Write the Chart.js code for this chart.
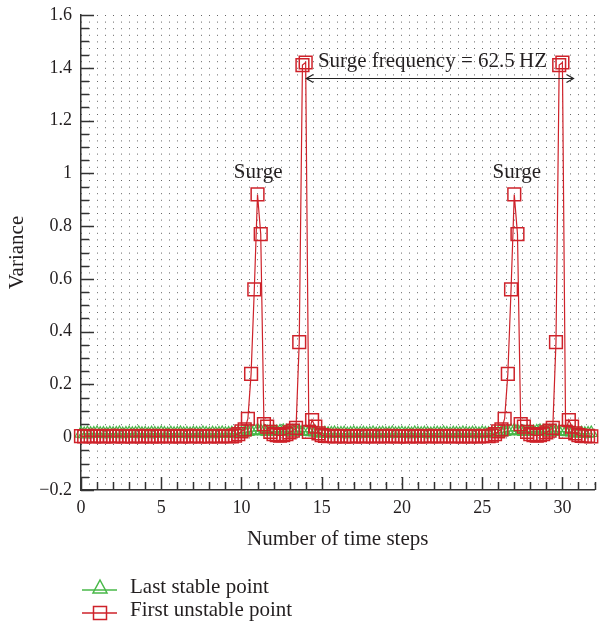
<!DOCTYPE html>
<html>
<head>
<meta charset="utf-8">
<script src="https://cdn.jsdelivr.net/npm/chart.js@4.4.0/dist/chart.umd.min.js"></script>
<style>
  html, body { margin: 0; padding: 0; background: #fff; }
</style>
</head>
<body>
<canvas id="surgeChart" width="605" height="629"></canvas>
<script>
// time axis (one point every 0.2 step)
const timeSteps = [
  0, 0.2, 0.4, 0.6, 0.8, 1, 1.2, 1.4, 1.6, 1.8,
  2, 2.2, 2.4, 2.6, 2.8, 3, 3.2, 3.4, 3.6, 3.8,
  4, 4.2, 4.4, 4.6, 4.8, 5, 5.2, 5.4, 5.6, 5.8,
  6, 6.2, 6.4, 6.6, 6.8, 7, 7.2, 7.4, 7.6, 7.8,
  8, 8.2, 8.4, 8.6, 8.8, 9, 9.2, 9.4, 9.6, 9.8,
  10, 10.2, 10.4, 10.6, 10.8, 11, 11.2, 11.4, 11.6, 11.8,
  12, 12.2, 12.4, 12.6, 12.8, 13, 13.2, 13.4, 13.6, 13.8,
  14, 14.2, 14.4, 14.6, 14.8, 15, 15.2, 15.4, 15.6, 15.8,
  16, 16.2, 16.4, 16.6, 16.8, 17, 17.2, 17.4, 17.6, 17.8,
  18, 18.2, 18.4, 18.6, 18.8, 19, 19.2, 19.4, 19.6, 19.8,
  20, 20.2, 20.4, 20.6, 20.8, 21, 21.2, 21.4, 21.6, 21.8,
  22, 22.2, 22.4, 22.6, 22.8, 23, 23.2, 23.4, 23.6, 23.8,
  24, 24.2, 24.4, 24.6, 24.8, 25, 25.2, 25.4, 25.6, 25.8,
  26, 26.2, 26.4, 26.6, 26.8, 27, 27.2, 27.4, 27.6, 27.8,
  28, 28.2, 28.4, 28.6, 28.8, 29, 29.2, 29.4, 29.6, 29.8,
  30, 30.2, 30.4, 30.6, 30.8, 31, 31.2, 31.4, 31.6, 31.8
];

const firstUnstable = [
  0.004, 0.003, 0.005, 0.004, 0.003, 0.005, 0.004, 0.003, 0.004, 0.005,
  0.003, 0.004, 0.005, 0.003, 0.004, 0.004, 0.003, 0.005, 0.004, 0.003,
  0.004, 0.005, 0.003, 0.004, 0.003, 0.005, 0.004, 0.004, 0.003, 0.005,
  0.004, 0.003, 0.004, 0.005, 0.003, 0.004, 0.005, 0.003, 0.004, 0.004,
  0.003, 0.005, 0.004, 0.003, 0.004, 0.005, 0.004, 0.003, 0.006, 0.012,
  0.022, 0.03, 0.07, 0.24, 0.56, 0.92, 0.77, 0.05, 0.04, 0.02,
  0.012, 0.008, 0.006, 0.008, 0.012, 0.018, 0.025, 0.035, 0.36, 1.41,
  1.42, 0.02, 0.065, 0.04, 0.015, 0.008, 0.005, 0.004, 0.005, 0.003,
  0.004, 0.005, 0.003, 0.004, 0.004, 0.003, 0.005, 0.004, 0.003, 0.004,
  0.005, 0.003, 0.004, 0.004, 0.005, 0.003, 0.004, 0.005, 0.004, 0.003,
  0.004, 0.004, 0.003, 0.005, 0.004, 0.003, 0.004, 0.005, 0.003, 0.004,
  0.005, 0.004, 0.003, 0.004, 0.005, 0.004, 0.003, 0.004, 0.005, 0.003,
  0.004, 0.003, 0.005, 0.004, 0.003, 0.004, 0.005, 0.004, 0.006, 0.012,
  0.022, 0.03, 0.07, 0.24, 0.56, 0.92, 0.77, 0.05, 0.04, 0.02,
  0.012, 0.008, 0.006, 0.008, 0.012, 0.018, 0.025, 0.035, 0.36, 1.41,
  1.42, 0.02, 0.065, 0.04, 0.015, 0.008, 0.005, 0.004, 0.005, 0.003
];

const lastStable = [
  0.014, 0.012, 0.015, 0.013, 0.014, 0.016, 0.013, 0.014, 0.012, 0.015,
  0.013, 0.014, 0.016, 0.012, 0.014, 0.015, 0.013, 0.014, 0.016, 0.013,
  0.014, 0.012, 0.015, 0.014, 0.013, 0.016, 0.014, 0.012, 0.015, 0.013,
  0.014, 0.016, 0.013, 0.014, 0.012, 0.015, 0.014, 0.013, 0.016, 0.014,
  0.012, 0.015, 0.013, 0.014, 0.016, 0.013, 0.014, 0.015, 0.014, 0.016,
  0.016, 0.018, 0.020, 0.022, 0.024, 0.026, 0.024, 0.022, 0.020, 0.022,
  0.022, 0.020, 0.022, 0.024, 0.022, 0.020, 0.022, 0.024, 0.022, 0.020,
  0.022, 0.020, 0.019, 0.018, 0.016, 0.014, 0.015, 0.013, 0.014, 0.016,
  0.013, 0.014, 0.015, 0.012, 0.014, 0.016, 0.013, 0.014, 0.015, 0.013,
  0.014, 0.016, 0.012, 0.014, 0.015, 0.013, 0.014, 0.016, 0.013, 0.014,
  0.015, 0.013, 0.014, 0.012, 0.016, 0.014, 0.013, 0.015, 0.014, 0.012,
  0.014, 0.015, 0.013, 0.016, 0.014, 0.012, 0.015, 0.014, 0.013, 0.016,
  0.014, 0.013, 0.015, 0.014, 0.012, 0.016, 0.014, 0.013, 0.014, 0.016,
  0.016, 0.018, 0.020, 0.022, 0.024, 0.026, 0.024, 0.022, 0.020, 0.022,
  0.022, 0.020, 0.022, 0.024, 0.022, 0.020, 0.022, 0.024, 0.022, 0.020,
  0.022, 0.020, 0.019, 0.018, 0.016, 0.014, 0.015, 0.013, 0.014, 0.016
];

const seriesLabels = ['Last stable point', 'First unstable point'];
const xLabelValues = [0, 5, 10, 15, 20, 25, 30];
const yLabelValues = [-0.2, 0, 0.2, 0.4, 0.6, 0.8, 1, 1.2, 1.4, 1.6];

// annotations, in data units
const surgeNotes = [
  { x: 11.04, y: 1.005, text: 'Surge' },
  { x: 27.16, y: 1.005, text: 'Surge' }
];
const freqNote = { x: 21.9, y: 1.422, text: 'Surge frequency = 62.5\u2009HZ' };
const freqArrow = { x1: 14.04, x2: 30.69, y: 1.361 };

const RED = 'rgb(206,34,42)';
const GREEN = 'rgb(72,184,72)';
const INK = '#231f20';
const SERIF = '"Liberation Serif", "DejaVu Serif", serif';

const toPoints = vals => timeSteps.map((x, i) => ({ x, y: vals[i] }));

const isMajorY = v => Math.round(v * 20) % 4 === 0;
const isMajorX = v => Math.round(v * 2) % 10 === 0;

// inward tick marks, arrow, notes and the stacked legend
const decorations = {
  id: 'decorations',
  beforeDatasetsDraw(chart) {
    const { ctx, chartArea: a, scales: { x, y } } = chart;
    ctx.save();
    ctx.strokeStyle = '#333';
    ctx.lineWidth = 1.5;
    ctx.beginPath();
    y.ticks.forEach(t => {
      const py = Math.round(y.getPixelForValue(t.value)) + 0.5;
      const len = isMajorY(t.value) ? 13 : 8;
      ctx.moveTo(a.left, py); ctx.lineTo(a.left + len, py);
    });
    x.ticks.forEach(t => {
      if (Math.round(t.value * 2) % 2) return;
      const px = Math.round(x.getPixelForValue(t.value)) + 0.5;
      const len = isMajorX(t.value) ? 13 : 8;
      ctx.moveTo(px, a.bottom); ctx.lineTo(px, a.bottom - len);
    });
    ctx.stroke();
    ctx.restore();
  },
  afterDraw(chart) {
    const { ctx, scales: { x, y } } = chart;
    ctx.save();
    ctx.fillStyle = INK;
    ctx.font = '21px ' + SERIF;
    ctx.textAlign = 'center';
    ctx.textBaseline = 'middle';
    surgeNotes.forEach(n => ctx.fillText(n.text, x.getPixelForValue(n.x), y.getPixelForValue(n.y)));
    ctx.fillText(freqNote.text, x.getPixelForValue(freqNote.x), y.getPixelForValue(freqNote.y));

    // double headed arrow
    const ax1 = x.getPixelForValue(freqArrow.x1), ax2 = x.getPixelForValue(freqArrow.x2);
    const ay = Math.round(y.getPixelForValue(freqArrow.y)) + 0.5;
    ctx.strokeStyle = '#222';
    ctx.lineWidth = 1.2;
    ctx.beginPath();
    ctx.moveTo(ax1, ay); ctx.lineTo(ax2, ay);
    ctx.moveTo(ax1 + 7, ay - 4); ctx.lineTo(ax1, ay); ctx.lineTo(ax1 + 7, ay + 4);
    ctx.moveTo(ax2 - 7, ay - 4); ctx.lineTo(ax2, ay); ctx.lineTo(ax2 - 7, ay + 4);
    ctx.stroke();

    // legend, one row per series
    const rows = [
      { label: seriesLabels[0], color: GREEN, style: 'triangle', y: 590 },
      { label: seriesLabels[1], color: RED, style: 'rect', y: 613 }
    ];
    ctx.textAlign = 'left';
    ctx.font = '21px ' + SERIF;
    rows.forEach(r => {
      ctx.strokeStyle = r.color;
      ctx.lineWidth = 1.3;
      ctx.beginPath();
      ctx.moveTo(82, r.y); ctx.lineTo(117, r.y);
      ctx.stroke();
      ctx.lineWidth = 1.5;
      ctx.beginPath();
      if (r.style === 'rect') {
        ctx.rect(93.5, r.y - 6.5, 13, 13);
      } else {
        ctx.moveTo(100, r.y - 10); ctx.lineTo(107, r.y + 3); ctx.lineTo(93, r.y + 3); ctx.closePath();
      }
      ctx.stroke();
      ctx.fillStyle = INK;
      ctx.fillText(r.label, 130, r.y - 3);
    });
    ctx.restore();
  }
};

new Chart(document.getElementById('surgeChart'), {
  type: 'line',
  data: {
    datasets: [
      {
        label: seriesLabels[1],
        data: toPoints(firstUnstable),
        borderColor: RED, borderWidth: 1.2,
        pointStyle: 'rect', pointRadius: 9, pointBorderWidth: 1.5,
        pointBorderColor: RED, pointBackgroundColor: 'rgba(0,0,0,0)',
        tension: 0, fill: false, clip: false, order: 1
      },
      {
        label: seriesLabels[0],
        data: toPoints(lastStable),
        borderColor: GREEN, borderWidth: 1.2,
        pointStyle: 'triangle', pointRadius: 7, pointBorderWidth: 1.2,
        pointBorderColor: GREEN, pointBackgroundColor: 'rgba(0,0,0,0)',
        tension: 0, fill: false, clip: false, order: 2
      }
    ]
  },
  options: {
    responsive: false,
    animation: false,
    layout: { padding: { left: 0, right: 0, top: 15, bottom: 77 } },
    plugins: { legend: { display: false }, tooltip: { enabled: false } },
    scales: {
      x: {
        type: 'linear', min: 0, max: 32,
        afterFit: s => { s.height = 62; s.paddingLeft = 0; s.paddingRight = 0; },
        ticks: {
          stepSize: 0.5, maxTicksLimit: 70, autoSkip: false, maxRotation: 0,
          padding: 7, color: INK, font: { family: SERIF, size: 18 },
          callback: v => xLabelValues.includes(Math.round(v * 2) / 2) ? String(Math.round(v)) : ''
        },
        grid: { color: '#666', lineWidth: 1, drawTicks: false, tickLength: 0 },
        border: { color: '#333', width: 1.5, dash: [1, 5.6] },
        title: { display: true, text: 'Number of time steps', color: INK, font: { family: SERIF, size: 21 }, padding: 0 }
      },
      y: {
        min: -0.2, max: 1.6,
        afterFit: s => { s.width = 81; s.paddingTop = 0; s.paddingBottom = 0; },
        ticks: {
          stepSize: 0.05, maxTicksLimit: 40, autoSkip: false,
          padding: 9, color: INK, font: { family: SERIF, size: 18 },
          callback: v => {
            if (!isMajorY(v)) return '';
            const t = Math.round(v * 10) / 10;
            return yLabelValues.includes(t) ? (t < 0 ? '\u2212' + (-t) : String(t)) : '';
          }
        },
        grid: { display: false, drawTicks: false, tickLength: 0 },
        border: { color: '#333', width: 1.5 },
        title: { display: true, text: 'Variance', color: INK, font: { family: SERIF, size: 21 }, padding: { top: 5 } }
      }
    }
  },
  plugins: [decorations]
});
</script>
</body>
</html>
